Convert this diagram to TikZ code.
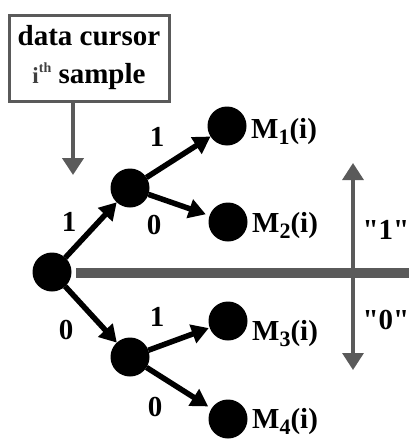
\documentclass[tikz,border=0pt]{standalone}
\usepackage{fontspec}
\setmainfont{Liberation Serif}
\newfontfamily\qfont{Liberation Serif}[Ligatures=TeXOff]
\usetikzlibrary{arrows.meta}
\definecolor{cgray}{HTML}{5A5A5A}
\newcommand{\msub}[1]{M\raisebox{-6pt}{\fontsize{22}{22}\selectfont #1}(i)}
\begin{document}
\begin{tikzpicture}[x=1pt,y=-1pt,
  dot/.style={circle,fill=black,minimum size=39pt,inner sep=0pt,outer sep=0pt},
  edge/.style={line width=5.5pt,-{Triangle[length=17pt,width=19pt]},shorten >=2pt},
  lab/.style={font=\fontsize{29}{29}\selectfont\bfseries,inner sep=0pt},
  mlab/.style={lab,anchor=base west},
  gline/.style={cgray,line width=3.5pt},
  garrow/.style={-{Triangle[length=17pt,width=21pt]}}]
\useasboundingbox (0,0) rectangle (409,439);
% cursor box
\node[draw=cgray,line width=3pt,minimum width=160pt,minimum height=86pt,inner sep=0pt] (cursor) at (89,58) {};
\node[lab,anchor=base] (t1) at (89,45) {data cursor};
\node[lab,anchor=base] (t2) at (89,83) {{\color{black!75}\fontsize{23}{23}\selectfont i\raisebox{0.45em}{\fontsize{14}{14}\selectfont th}}\ sample};
\coordinate (ctip) at (73,175);
\draw[gline,line width=4pt,garrow] (cursor.south -| ctip) -- (ctip);
% divider
\coordinate (hl) at (76,273);
\coordinate (hr) at (409,273);
\coordinate (vt) at (353,163);
\coordinate (vb) at (353,370);
\draw[gline,line width=3.3pt,{Triangle[length=17pt,width=21pt]}-{Triangle[length=17pt,width=21pt]}] (vt) -- (vb);
\draw[cgray,line width=10pt] (hl) -- (hr);
\node[lab] (q1) at (386,230) {\qfont\bfseries "1"};
\node[lab] (q0) at (386,320) {\qfont\bfseries "0"};
% tree
\node[dot] (root) at (52,272) {};
\node[dot] (up) at (130,188) {};
\node[dot] (lo) at (130,357) {};
\node[dot] (m1) at (227,126) {};
\node[dot] (m2) at (228,222) {};
\node[dot] (m3) at (228,321) {};
\node[dot] (m4) at (228,419) {};
\draw[edge,shorten >=0pt] (root) -- (up);
\draw[edge,shorten >=0pt] (root) -- (lo);
\draw[edge,shorten >=0pt] (up) -- (m1);
\draw[edge,shorten >=4pt] (up) -- (m2);
\draw[edge,shorten >=1pt] (lo) -- (m3);
\draw[edge,shorten >=4pt] (lo) -- (m4);
\node[lab] (e1) at (69,222) {1};
\node[lab] (e2) at (157,137) {1};
\node[lab] (e3) at (154,225) {0};
\node[lab] (e4) at (66,330) {0};
\node[lab] (e5) at (157,317) {1};
\node[lab] (e6) at (155,407) {0};
\node[mlab] (l1) at (251,138) {\msub{1}};
\node[mlab] (l2) at (252,232) {\msub{2}};
\node[mlab] (l3) at (252,340) {\msub{3}};
\node[mlab] (l4) at (252,428) {\msub{4}};
\end{tikzpicture}
\end{document}
